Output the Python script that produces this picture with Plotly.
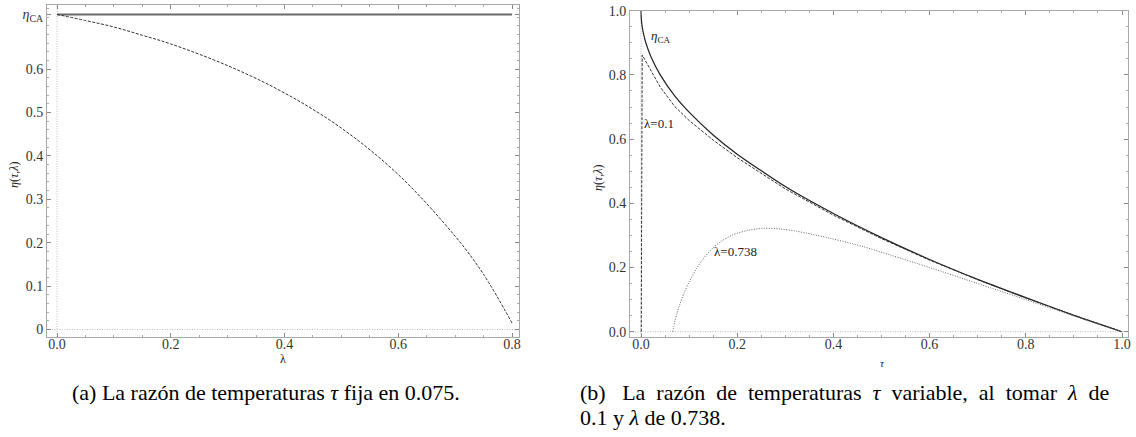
import plotly.graph_objects as go

W, H = 1136, 437

# ---------------- Panel (a): tau fixed at 0.075 ----------------
lam = [0.0, 0.05, 0.1, 0.15, 0.2, 0.3, 0.4, 0.5, 0.6, 0.7, 0.75, 0.8]
eta_lam = [0.726, 0.712, 0.697, 0.678, 0.658, 0.608, 0.545, 0.464, 0.357, 0.215, 0.127, 0.015]
lam_ca = [0.0, 0.8]
eta_ca_a = [0.726, 0.726]
xt_a = [0.0, 0.2, 0.4, 0.6, 0.8]
xt_a_txt = ["0.0", "0.2", "0.4", "0.6", "0.8"]
yt_a = [0.0, 0.1, 0.2, 0.3, 0.4, 0.5, 0.6, 0.726]
yt_a_txt = ["0", "0.1", "0.2", "0.3", "0.4", "0.5", "0.6", "<i>η</i><sub>CA</sub>"]

# ---------------- Panel (b): tau variable ----------------
tau_ca = [0.0, 0.001, 0.003, 0.006, 0.01, 0.02, 0.04, 0.07, 0.1, 0.15, 0.2,
          0.3, 0.4, 0.5, 0.6, 0.7, 0.8, 0.9, 1.0]
eta_ca = [1.0, 0.968, 0.945, 0.923, 0.900, 0.859, 0.800, 0.735, 0.684, 0.613,
          0.553, 0.452, 0.368, 0.293, 0.225, 0.163, 0.106, 0.051, 0.0]

tau_01 = [0.0005, 0.0015, 0.0025, 0.004, 0.007, 0.01, 0.02, 0.04, 0.07, 0.1,
          0.15, 0.2, 0.3, 0.4, 0.5, 0.6, 0.7, 0.8, 0.9, 1.0]
eta_01 = [0.0, 0.60, 0.862, 0.858, 0.850, 0.842, 0.815, 0.762, 0.702, 0.658,
          0.597, 0.542, 0.445, 0.363, 0.290, 0.223, 0.162, 0.105, 0.051, 0.0]

tau_738 = [0.066, 0.07, 0.075, 0.08, 0.09, 0.1, 0.115, 0.13, 0.15, 0.17, 0.19,
           0.22, 0.254, 0.29, 0.324, 0.393, 0.462, 0.518, 0.6, 0.7, 0.8, 0.9, 1.0]
eta_738 = [0.0, 0.030, 0.058, 0.082, 0.122, 0.155, 0.196, 0.228, 0.262, 0.285,
           0.301, 0.315, 0.322, 0.320, 0.313, 0.291, 0.265, 0.239, 0.200, 0.150,
           0.100, 0.049, 0.0]
xt_b = [0.0, 0.2, 0.4, 0.6, 0.8, 1.0]
xt_b_txt = ["0.0", "0.2", "0.4", "0.6", "0.8", "1.0"]
yt_b = [0.0, 0.2, 0.4, 0.6, 0.8, 1.0]
yt_b_txt = ["0.0", "0.2", "0.4", "0.6", "0.8", "1.0"]

SERIF = "Liberation Serif, Times New Roman, DejaVu Serif, serif"
FRAME = "#a8a8a8"
TICKC = "#888888"
LBL = "#333333"

fig = go.Figure()

# panel (a) traces
fig.add_trace(go.Scatter(x=lam_ca, y=eta_ca_a, mode="lines", xaxis="x", yaxis="y",
                         line=dict(color="#6a6a6a", width=2), showlegend=False))
fig.add_trace(go.Scatter(x=lam, y=eta_lam, mode="lines", xaxis="x", yaxis="y",
                         line=dict(color="#333333", width=1, dash="3px,1.5px", shape="spline", smoothing=1.0),
                         showlegend=False))

# panel (b) traces
fig.add_trace(go.Scatter(x=tau_ca, y=eta_ca, mode="lines", xaxis="x2", yaxis="y2",
                         line=dict(color="#222222", width=1.2, shape="spline", smoothing=0.6),
                         showlegend=False))
fig.add_trace(go.Scatter(x=tau_01, y=eta_01, mode="lines", xaxis="x2", yaxis="y2",
                         line=dict(color="#333333", width=1, dash="3px,1.5px"),
                         showlegend=False))
fig.add_trace(go.Scatter(x=tau_738, y=eta_738, mode="lines", xaxis="x2", yaxis="y2",
                         line=dict(color="#666666", width=1, dash="1px,1.5px", shape="spline", smoothing=0.8),
                         showlegend=False))


def axis_common(domain, rng, tickvals, ticktext, minor_dtick, anchor):
    return dict(
        domain=domain, range=rng, anchor=anchor,
        tickmode="array", tickvals=tickvals, ticktext=ticktext,
        showline=True, mirror="allticks", linecolor=FRAME, linewidth=1,
        ticks="inside", ticklen=4, tickcolor=TICKC, tickwidth=1,
        minor=dict(tickmode="linear", tick0=0, dtick=minor_dtick, ticks="inside",
                   ticklen=2, tickcolor="#aaaaaa", tickwidth=1, showgrid=False),
        showgrid=False, zeroline=False, automargin=False,
        tickfont=dict(family=SERIF, size=14, color=LBL),
    )


xa = axis_common([47 / W, 519 / W], [-10 / 569, 0.8 + 7 / 569], xt_a, xt_a_txt, 0.05, "y")
ya = axis_common([1 - 337 / H, 1 - 5 / H], [-7.5 / 434, (329.5 - 5) / 434], yt_a, yt_a_txt, 0.02, "x")
xb = axis_common([630 / W, 1128 / W], [-11 / 481, 1 + 6 / 481], xt_b, xt_b_txt, 0.05, "y2")
yb = axis_common([1 - 336.7 / H, 1 - 10.7 / H], [-5 / 321, 1.0], yt_b, yt_b_txt, 0.05, "x2")
xa["ticklabelstandoff"] = -6
xb["ticklabelstandoff"] = -6

fig.update_layout(
    width=W, height=H,
    margin=dict(l=0, r=0, t=0, b=0, pad=0),
    paper_bgcolor="white", plot_bgcolor="white",
    xaxis=xa, yaxis=ya, xaxis2=xb, yaxis2=yb,
    showlegend=False,
)

# dotted zero lines
dot = dict(color="#bdbdbd", width=1, dash="1px,1.5px")
fig.add_shape(type="line", xref="x", yref="y domain", x0=0, x1=0, y0=0, y1=1, line=dot, layer="below")
fig.add_shape(type="line", xref="x domain", yref="y", x0=0, x1=1, y0=0, y1=0, line=dot, layer="below")
fig.add_shape(type="line", xref="x2", yref="y2 domain", x0=0, x1=0, y0=0, y1=1, line=dot, layer="below")
fig.add_shape(type="line", xref="x2 domain", yref="y2", x0=0, x1=1, y0=0, y1=0, line=dot, layer="below")


def px_ann(text, x, y, size, angle=0, xanchor="center", color="#222222"):
    fig.add_annotation(text=text, x=x / W, y=1 - y / H, xref="paper", yref="paper",
                       showarrow=False, textangle=angle, xanchor=xanchor, yanchor="middle",
                       font=dict(family=SERIF, size=size, color=color))


# axis titles
px_ann("<i>η</i>(<i>τ</i>,<i>λ</i>)", 14, 175, 12, angle=-90)
px_ann("λ", 283, 359, 12)
px_ann("<i>η</i>(<i>τ</i>,<i>λ</i>)", 598, 178, 12, angle=-90)
px_ann("<i>τ</i>", 882, 363, 11)

# curve labels in panel (b)
fig.add_annotation(text="<i>η</i><sub>CA</sub>", x=0.041, y=0.92, xref="x2", yref="y2",
                   showarrow=False, font=dict(family=SERIF, size=13, color="#222222"))
fig.add_annotation(text="λ=0.1", x=0.038, y=0.65, xref="x2", yref="y2",
                   showarrow=False, font=dict(family=SERIF, size=13, color="#222222"))
fig.add_annotation(text="λ=0.738", x=0.196, y=0.251, xref="x2", yref="y2",
                   showarrow=False, font=dict(family=SERIF, size=13, color="#222222"))

# captions
px_ann("(a) La razón de temperaturas <i>τ</i> fija en 0.075.", 266, 392, 22, color="black")
nb = "\u00a0"
g = nb * 2
line1 = ("(b)" + nb * 3 + "La" + g + "razón" + g + "de" + g + "temperaturas" + g
         + "<i>τ</i>" + g + "variable," + g + "al" + g + "tomar" + g
         + "<i>λ</i>" + g + "de")
px_ann(line1, 578, 392, 22, xanchor="left", color="black")
px_ann("0.1 y <i>λ</i> de 0.738.", 578, 417, 22, xanchor="left", color="black")

fig.write_html("out.html", config={"displayModeBar": False},
               post_script="document.body.style.margin='0px';")
